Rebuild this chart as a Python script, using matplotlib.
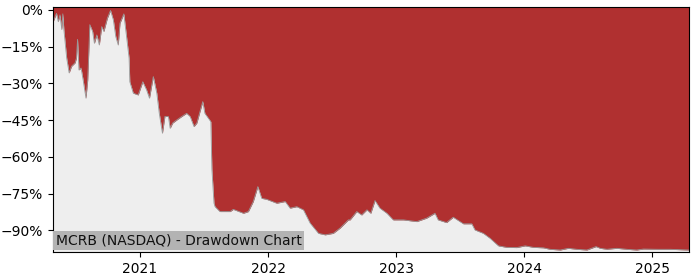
import matplotlib
matplotlib.use("Agg")
import matplotlib.pyplot as plt
import matplotlib.dates as mdates
from matplotlib.ticker import FuncFormatter
import pandas as pd

dates = ["2020-04-28", "2020-05-08", "2020-05-13", "2020-05-18", "2020-05-23", "2020-05-26",
         "2020-05-29", "2020-06-06", "2020-06-13", "2020-06-20", "2020-06-30", "2020-07-04",
         "2020-07-07", "2020-07-11", "2020-07-17", "2020-07-23", "2020-07-31", "2020-08-05",
         "2020-08-11", "2020-08-19", "2020-08-24", "2020-08-31", "2020-09-07", "2020-09-14",
         "2020-09-20", "2020-09-30", "2020-10-09", "2020-10-17", "2020-10-24", "2020-10-31",
         "2020-11-05", "2020-11-16", "2020-11-22", "2020-12-01", "2020-12-03", "2020-12-13",
         "2020-12-27", "2021-01-09", "2021-01-20", "2021-01-28", "2021-02-08", "2021-02-18",
         "2021-02-25", "2021-03-06", "2021-03-13", "2021-03-23", "2021-03-28", "2021-04-04",
         "2021-04-16", "2021-04-30", "2021-05-14", "2021-05-24", "2021-06-04", "2021-06-12",
         "2021-06-21", "2021-06-29", "2021-07-05", "2021-07-15", "2021-07-22", "2021-07-25",
         "2021-07-31", "2021-08-03", "2021-08-17", "2021-09-15", "2021-09-24", "2021-10-23",
         "2021-11-06", "2021-11-20", "2021-12-03", "2021-12-14", "2021-12-28", "2022-01-26",
         "2022-02-19", "2022-03-05", "2022-03-24", "2022-04-12", "2022-05-01", "2022-05-25",
         "2022-06-13", "2022-07-06", "2022-07-25", "2022-08-18", "2022-08-23", "2022-09-11",
         "2022-09-25", "2022-10-10", "2022-10-21", "2022-11-02", "2022-11-16", "2022-12-06",
         "2022-12-24", "2023-01-22", "2023-03-01", "2023-03-29", "2023-04-22", "2023-05-01",
         "2023-05-25", "2023-06-13", "2023-07-12", "2023-08-05", "2023-08-14", "2023-09-07",
         "2023-09-26", "2023-10-20", "2023-11-12", "2023-12-11", "2024-01-04", "2024-01-27",
         "2024-02-25", "2024-03-15", "2024-04-13", "2024-05-06", "2024-05-30", "2024-06-28",
         "2024-07-24", "2024-08-05", "2024-08-24", "2024-09-21", "2024-10-20", "2024-11-17",
         "2024-12-06", "2025-01-14", "2025-02-21", "2025-04-14"]

drawdown = [-5.0, -1.4, -4.8, -2.0, -8.0, -1.6,
            -8.0, -19.6, -25.7, -23.0, -21.6, -19.6,
            -12.0, -24.5, -23.7, -28.6, -36.0, -28.6,
            -6.0, -8.8, -13.6, -10.2, -14.3, -6.8,
            -8.8, -3.4, -0.2, -4.0, -10.9, -14.3,
            -5.4, -1.6, -8.8, -19.7, -29.3, -34.0,
            -34.7, -29.3, -32.7, -36.0, -27.2, -34.0,
            -42.2, -50.3, -43.5, -43.5, -48.3, -46.2,
            -44.9, -43.5, -42.2, -43.5, -47.6, -46.2,
            -41.5, -37.4, -42.2, -44.2, -45.6, -65.0,
            -78.9, -80.3, -82.3, -82.3, -81.4, -83.0,
            -82.3, -78.2, -72.1, -76.9, -77.3, -78.9,
            -78.2, -80.9, -80.3, -81.6, -87.0, -91.2,
            -91.8, -91.2, -89.1, -85.7, -85.7, -82.3,
            -83.7, -81.6, -83.0, -77.8, -80.9, -83.0,
            -85.7, -85.7, -86.4, -85.0, -83.0, -85.7,
            -86.8, -84.6, -87.3, -87.3, -89.8, -91.2,
            -93.2, -96.3, -96.9, -97.0, -96.3, -96.9,
            -97.1, -97.7, -98.0, -97.3, -97.7, -98.0,
            -96.6, -97.3, -97.7, -97.3, -97.7, -98.0,
            -97.6, -97.7, -97.7, -98.0]

yticks = [0, -15, -30, -45, -60, -75, -90]
title = "MCRB (NASDAQ) - Drawdown Chart"

x = pd.to_datetime(dates)
y_top, y_bot = 1.2, -98.8

fig = plt.figure(figsize=(7, 2.8), dpi=100)
ax = fig.add_axes([0.0757, 0.1, 0.908, 0.875])
ax.set_facecolor("#eeeeee")
ax.fill_between(x, drawdown, y_top, color="#b03030", linewidth=0)
ax.plot(x, drawdown, color="#999999", linewidth=0.6)
ax.set_xlim(x[0], x[-1])
ax.set_ylim(y_bot, y_top)
ax.set_yticks(yticks)
ax.yaxis.set_major_formatter(FuncFormatter(lambda v, p: f"{v:.0f}%".replace("-", "\u2212")))
ax.xaxis.set_major_locator(mdates.YearLocator())
ax.xaxis.set_major_formatter(mdates.DateFormatter("%Y"))
ax.tick_params(labelsize=10)
ax.text(0.004, 0.018, title, transform=ax.transAxes, fontsize=10, color="#111111",
        ha="left", va="bottom",
        bbox=dict(facecolor="#b3b3b3", edgecolor="none", pad=2))
fig.savefig("out.png", dpi=100)
